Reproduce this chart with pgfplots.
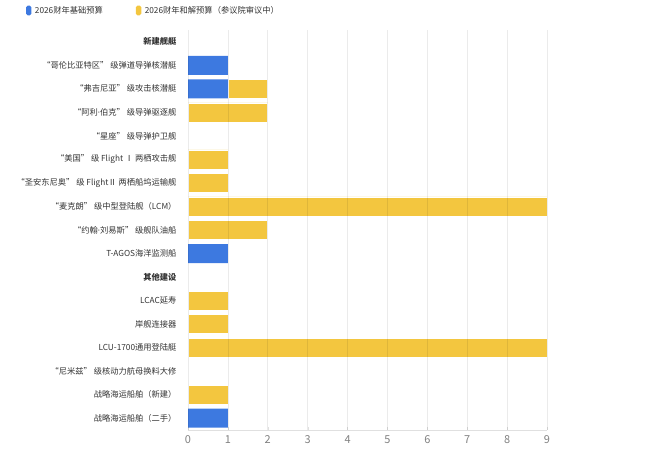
\documentclass[border=0pt]{standalone}
\usepackage{fontspec}
\setmainfont{Noto Sans CJK SC}
\newfontfamily\latinf{Noto Sans}
\usepackage{pgfplots}
\pgfplotsset{compat=1.18}
\definecolor{basis}{HTML}{3D79E0}
\definecolor{recon}{HTML}{F3C63F}
\definecolor{labc}{HTML}{333333}
\definecolor{tickc}{HTML}{808080}

\begin{document}
\begin{tikzpicture}
\useasboundingbox (0,0) rectangle (650bp,452bp);
\begin{axis}[
    at={(188bp,22bp)}, anchor=south west,
    scale only axis,
    width=359bp, height=400bp,
    xmin=0, xmax=9,
    ymin=-0.5, ymax=16.5,
    y dir=reverse,
    xbar stacked,
    bar width=19bp,
    xtick={0,...,9},
    ytick={0,...,16},
    yticklabels={
        {\bfseries 新建舰艇},
        “哥伦比亚特区” 级弹道导弹核潜艇,
        “弗吉尼亚” 级攻击核潜艇,
        “阿利{\latinf ·}伯克” 级导弹驱逐舰,
        “星座” 级导弹护卫舰,
        “美国” 级 Flight Ⅰ 两栖攻击舰,
        “圣安东尼奥” 级 FlightⅡ 两栖船坞运输舰,
        “麦克朗” 级中型登陆舰（LCM）,
        “约翰{\latinf ·}刘易斯” 级舰队油船,
        T-AGOS海洋监测船,
        {\bfseries 其他建设},
        LCAC延寿,
        岸舰连接器,
        LCU-1700通用登陆艇,
        “尼米兹” 级核动力航母换料大修,
        战略海运船舶（新建）,
        战略海运船舶（二手）
    },
    axis x line*=bottom,
    axis y line*=left,
    y axis line style={draw=none},
    x axis line style={draw=black, opacity=0.12},
    xmajorgrids,
    grid style={black, opacity=0.08, line width=0.6bp},
    axis on top,
    xtick style={draw=black, opacity=0.12},
    ytick style={draw=none},
    major tick length=3bp,
    /pgf/number format/assume math mode=true,
    xticklabel style={font=\fontsize{11}{12}\selectfont, text=tickc, yshift=-2bp},
    yticklabel style={font=\fontsize{8.3}{10}\selectfont, text=labc, xshift=-8bp},
    legend columns=2,
    legend style={
        draw=none, fill=none,
        at={(-0.46,1.07)}, anchor=north west,
        font=\fontsize{8.3}{10}\selectfont, text=labc,
        /tikz/every even column/.append style={column sep=31bp},
        cells={anchor=west},
        /tikz/every odd column/.append style={column sep=1.5bp},
    },
    legend image code/.code={
        \fill[#1, draw=none, rounded corners=1.6bp] (0bp,-4.8bp) rectangle (5.4bp,4.8bp);
    },
]
\addplot[fill=basis, draw=none] coordinates {
    (0,0) (1,1) (1,2) (0,3) (0,4) (0,5) (0,6) (0,7) (0,8)
    (1,9) (0,10) (0,11) (0,12) (0,13) (0,14) (0,15) (1,16)
};
\addlegendentry{2026财年基础预算}
\addplot[fill=recon, draw=white, line width=0.6bp] coordinates {
    (0,0) (0,1) (1,2) (2,3) (0,4) (1,5) (1,6) (9,7) (2,8)
    (0,9) (0,10) (1,11) (1,12) (9,13) (0,14) (1,15) (0,16)
};
\addlegendentry{2026财年和解预算（参议院审议中）}
\end{axis}
\end{tikzpicture}
\end{document}
